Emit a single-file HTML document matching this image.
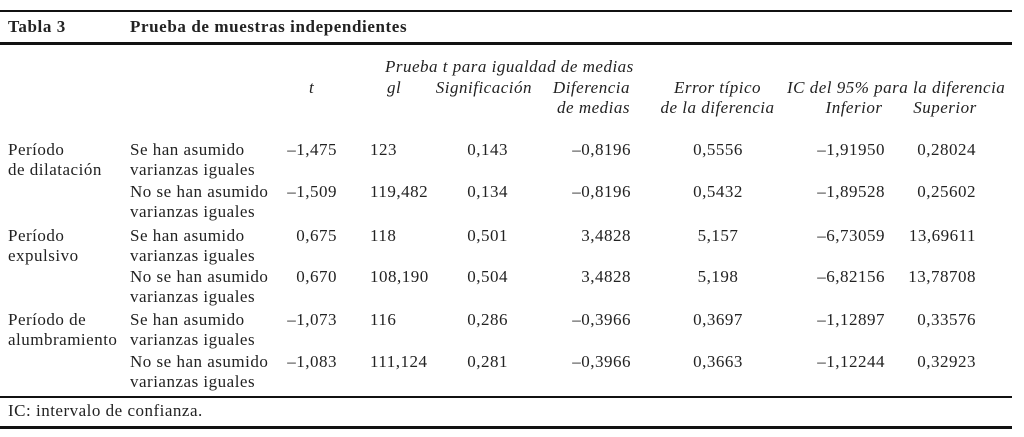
<!DOCTYPE html>
<html><head><meta charset="utf-8">
<style>
html,body{margin:0;padding:0;background:#fff;}
#t{position:relative;width:1024px;height:437px;overflow:hidden;font-family:"Liberation Serif",serif;font-size:17px;letter-spacing:0.5px;color:#222;}
.a{position:absolute;white-space:nowrap;line-height:20px;}
.r{text-align:right;}
.c{text-align:center;}
.i{font-style:italic;}
.b{font-weight:bold;letter-spacing:0.6px;}
.ln{position:absolute;left:0;width:1012px;background:#111;}
</style></head><body>
<div id="t">
<div class="ln" style="top:10px;height:2px"></div>
<div class="ln" style="top:42px;height:3px"></div>
<div class="ln" style="top:396px;height:2px"></div>
<div class="ln" style="top:426px;height:3px"></div>
<div class="a b" style="left:8px;top:17px">Tabla 3</div>
<div class="a b" style="left:130px;top:17px">Prueba de muestras independientes</div>
<div class="a i" style="left:385px;top:57px">Prueba t para igualdad de medias</div>
<div class="a i" style="left:309px;top:78px">t</div>
<div class="a i" style="left:387px;top:78px">gl</div>
<div class="a i r" style="left:400px;width:132px;top:78px">Significación</div>
<div class="a i r" style="left:520px;width:110px;top:78px;line-height:20px">Diferencia<br>de medias</div>
<div class="a i c" style="left:630px;width:175px;top:78px">Error típico<br>de la diferencia</div>
<div class="a i" style="left:787px;top:78px">IC del 95% para la diferencia</div>
<div class="a i c" style="left:809px;width:90px;top:98px">Inferior</div>
<div class="a i c" style="left:900px;width:90px;top:98px">Superior</div>
<div class="a" style="left:8px;top:401px">IC: intervalo de confianza.</div>
</div>
<script>
var groups=["Período<br>de dilatación","Período<br>expulsivo","Período de<br>alumbramiento"];
var assumptions=["Se han asumido<br>varianzas iguales","No se han asumido<br>varianzas iguales"];
var tVals=["–1,475","–1,509","0,675","0,670","–1,073","–1,083"];
var glVals=["123","119,482","118","108,190","116","111,124"];
var sigVals=["0,143","0,134","0,501","0,504","0,286","0,281"];
var difVals=["–0,8196","–0,8196","3,4828","3,4828","–0,3966","–0,3966"];
var errVals=["0,5556","0,5432","5,157","5,198","0,3697","0,3663"];
var infVals=["–1,91950","–1,89528","–6,73059","–6,82156","–1,12897","–1,12244"];
var supVals=["0,28024","0,25602","13,69611","13,78708","0,33576","0,32923"];
var T=document.getElementById('t');
function cell(html,left,top,width,align,name){
  var d=document.createElement('div');
  d.className='a'+(align?' '+align:'');
  d.style.left=left+'px';d.style.top=top+'px';
  if(width)d.style.width=width+'px';
  d.innerHTML=html;
  
  
  T.appendChild(d);
}
var rowTops=[140,182,226,267,310,352];
for(var g=0;g<groups.length;g++){
  cell(groups[g],8,rowTops[g*2],0,'','group-label-'+(g+1));
}
for(var k=0;k<tVals.length;k++){
  var y=rowTops[k];
  cell(assumptions[k%2],130,y,0,'','assumption-'+(k+1));
  cell(tVals[k],266,y,71,'r','t-value-'+(k+1));
  cell(glVals[k],370,y,0,'','gl-value-'+(k+1));
  cell(sigVals[k],427,y,81,'r','sig-value-'+(k+1));
  cell(difVals[k],540,y,91,'r','dif-value-'+(k+1));
  cell(errVals[k],658,y,120,'c','err-value-'+(k+1));
  cell(infVals[k],774,y,111,'r','inferior-value-'+(k+1));
  cell(supVals[k],865,y,111,'r','superior-value-'+(k+1));
}
</script>
</body></html>
